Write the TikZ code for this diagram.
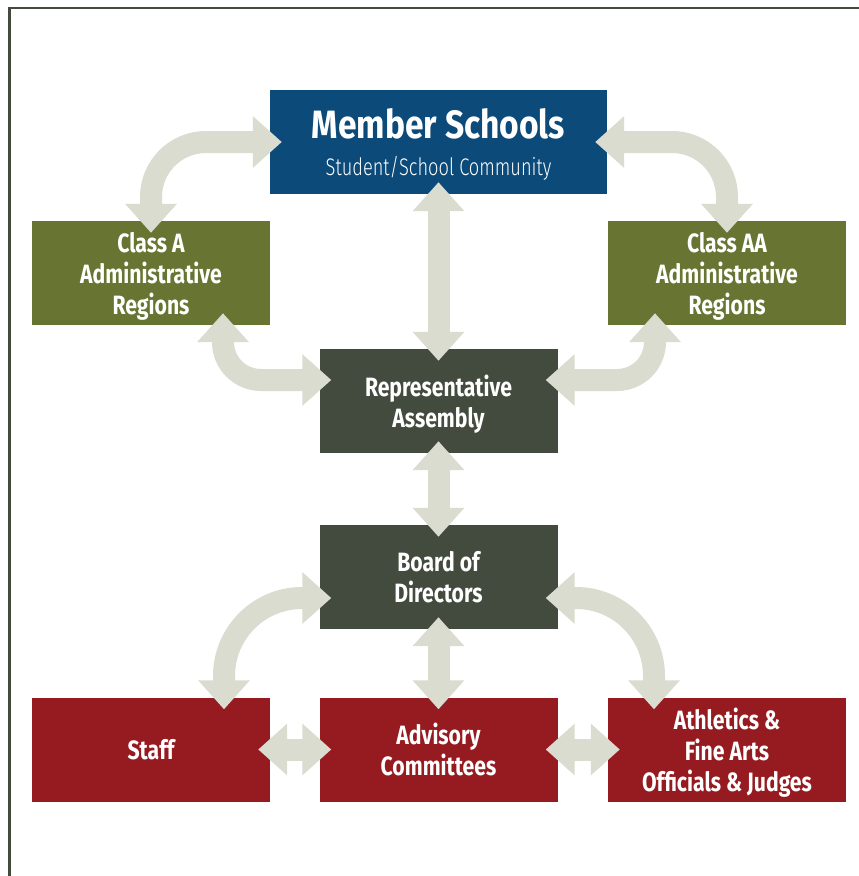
\documentclass[tikz,border=0pt]{standalone}
\usepackage{fontspec}
\setmainfont{Fira Sans}[FakeStretch=0.8]
\newfontfamily\headfont{Fira Sans}[FakeStretch=0.85]
\newfontfamily\thinfont{Fira Sans Light}[FakeStretch=0.76]
\usetikzlibrary{arrows.meta, positioning}

\definecolor{schoolblue}{HTML}{0C4A7A}
\definecolor{regiongreen}{HTML}{687532}
\definecolor{boarddark}{HTML}{424B3E}
\definecolor{staffred}{HTML}{961B20}
\definecolor{linkgray}{HTML}{D9DCCF}

\begin{document}
\begin{tikzpicture}[x=1pt, y=-1pt, >={Triangle[width=50pt,length=29pt]}]
\tikzstyle{box}=[minimum width=238pt, minimum height=104pt, inner sep=0pt, text depth=0pt, text=white, align=center, font=\bfseries\fontsize{26.5}{31}\selectfont]
\tikzstyle{link}=[<->, line width=22pt, draw=linkgray]
\useasboundingbox (0,0) rectangle (859,876);
\draw[boarddark, line width=2.5pt] (9.3,876) -- (9.3,8) -- (859,8);

\node[box, fill=schoolblue, minimum width=337pt] (members) at (438.5,142)
  {{\headfont\bfseries\fontsize{39.5}{40}\selectfont Member Schools}\\[6pt]
   {\thinfont\mdseries\fontsize{24}{28}\selectfont Student/School Community}};
\node[box, fill=regiongreen] (classa) at (151,273) {Class A\\Administrative\\Regions};
\node[box, fill=regiongreen] (classaa) at (727,273) {Class AA\\Administrative\\Regions};
\node[box, fill=boarddark] (assembly) at (438.5,401) {Representative\\Assembly};
\node[box, fill=boarddark] (board) at (438.5,577) {Board of\\Directors};
\node[box, fill=staffred] (staff) at (151,749.5) {Staff};
\node[box, fill=staffred] (advisory) at (438.5,749.5) {Advisory\\Committees};
\node[box, fill=staffred] (officials) at (727,749.5) {Athletics \&\\Fine Arts\\Officials \& Judges};

% upper links
\draw[link, rounded corners=55pt] ([xshift=12pt]members.west) -| ([yshift=-12pt]classa.north);
\draw[link, rounded corners=55pt] ([xshift=-12pt]members.east) -| ([yshift=-12pt]classaa.north);
\draw[link] ([yshift=12pt]members.south) -- ([yshift=-12pt]assembly.north);
\draw[link, rounded corners=38pt] ([xshift=72pt,yshift=12pt]classa.south) |- ([xshift=12pt,yshift=21pt]assembly.west);
\draw[link, rounded corners=38pt] ([xshift=-72pt,yshift=12pt]classaa.south) |- ([xshift=-12pt,yshift=21pt]assembly.east);
\draw[link] ([yshift=12pt]assembly.south) -- ([yshift=-12pt]board.north);

% lower links
\draw[link, rounded corners=78pt] ([xshift=12pt,yshift=-21pt]board.west) -| ([xshift=73pt,yshift=-12pt]staff.north);
\draw[link, rounded corners=78pt] ([xshift=-12pt,yshift=-21pt]board.east) -| ([xshift=-73pt,yshift=-12pt]officials.north);
\draw[link] ([yshift=12pt]board.south) -- ([yshift=-12pt]advisory.north);
\draw[link] ([xshift=-12pt]staff.east) -- ([xshift=12pt]advisory.west);
\draw[link] ([xshift=-12pt]advisory.east) -- ([xshift=12pt]officials.west);
\end{tikzpicture}
\end{document}
